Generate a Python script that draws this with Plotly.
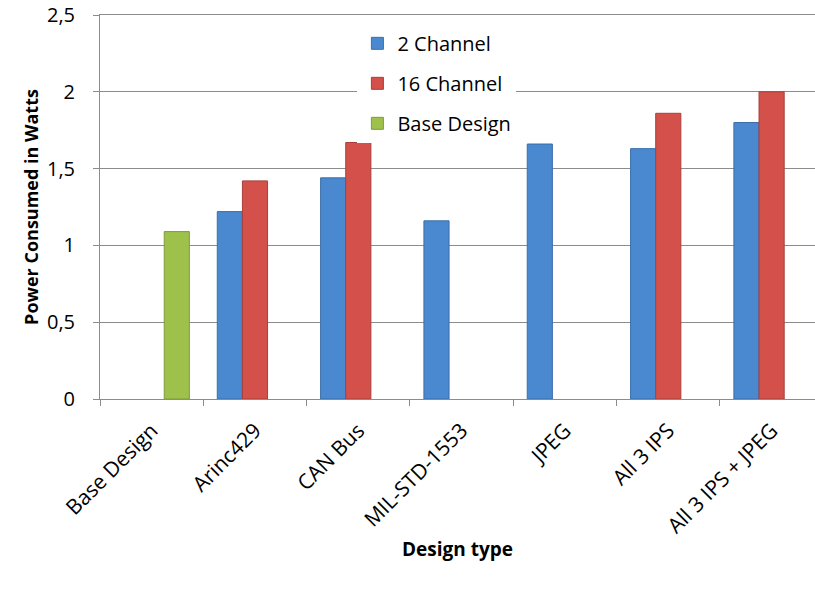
import plotly.graph_objects as go

categories = ["Base Design", "Arinc429", "CAN Bus", "MIL-STD-1553", "JPEG", "All 3 IPS", "All 3 IPS + JPEG"]
two_channel = [None, 1.22, 1.44, 1.16, 1.66, 1.63, 1.80]
sixteen_channel = [None, 1.42, 1.67, None, None, 1.86, 2.00]
base_design = [1.09, None, None, None, None, None, None]
y_ticks = [0, 0.5, 1, 1.5, 2, 2.5]

FONT = "Open Sans"
fig = go.Figure()
fig.add_trace(go.Bar(name="2 Channel", x=categories, y=two_channel, legendgroup="a",
                     marker=dict(color="#4a88cf", line=dict(color="#3b6fa8", width=1))))
fig.add_trace(go.Bar(name="16 Channel", x=categories, y=sixteen_channel, legendgroup="b",
                     marker=dict(color="#d4504a", line=dict(color="#a83f3a", width=1))))
fig.add_trace(go.Bar(name="Base Design", x=categories, y=base_design, legendgroup="c",
                     marker=dict(color="#9dc14a", line=dict(color="#7f9c3b", width=1))))

fig.update_layout(
    width=815, height=592,
    margin=dict(l=100, r=0, t=15, b=193),
    paper_bgcolor="white", plot_bgcolor="white",
    separators=",.",
    hovermode=False,
    barmode="group", bargap=0.27, bargroupgap=0,
    font=dict(family=FONT, size=19, color="black"),
    legend=dict(x=0.36, y=0.977, xanchor="left", yanchor="top",
                bgcolor="white", borderwidth=0, tracegroupgap=11,
                traceorder="grouped", font=dict(size=20)),
    xaxis=dict(range=[-0.5, 6.42], tickangle=-45, tickson="boundaries",
               ticks="outside", ticklen=6, tickcolor="#8c8c8c",
               showline=True, mirror=True, linecolor="#8c8c8c", linewidth=1,
               showgrid=False, tickfont=dict(size=21), automargin=False,
               ticklabelstandoff=10,
               title=dict(text="<b>Design type</b>", font=dict(size=19), standoff=4)),
    yaxis=dict(range=[0, 2.5], tickvals=y_ticks, ticks="outside", ticklen=6,
               tickcolor="#8c8c8c", showline=True, linecolor="#8c8c8c", linewidth=1,
               showgrid=True, gridcolor="#8c8c8c", gridwidth=1, zeroline=False,
               tickfont=dict(size=20), ticklabelstandoff=14, automargin=False,
               ticklabeloverflow="allow",
               title=dict(text="<b>Power Consumed in Watts</b>", font=dict(size=18), standoff=3)),
)
fig.write_html("out.html", config={"displayModeBar": False, "staticPlot": True},
               post_script="document.body.style.margin='0';")
